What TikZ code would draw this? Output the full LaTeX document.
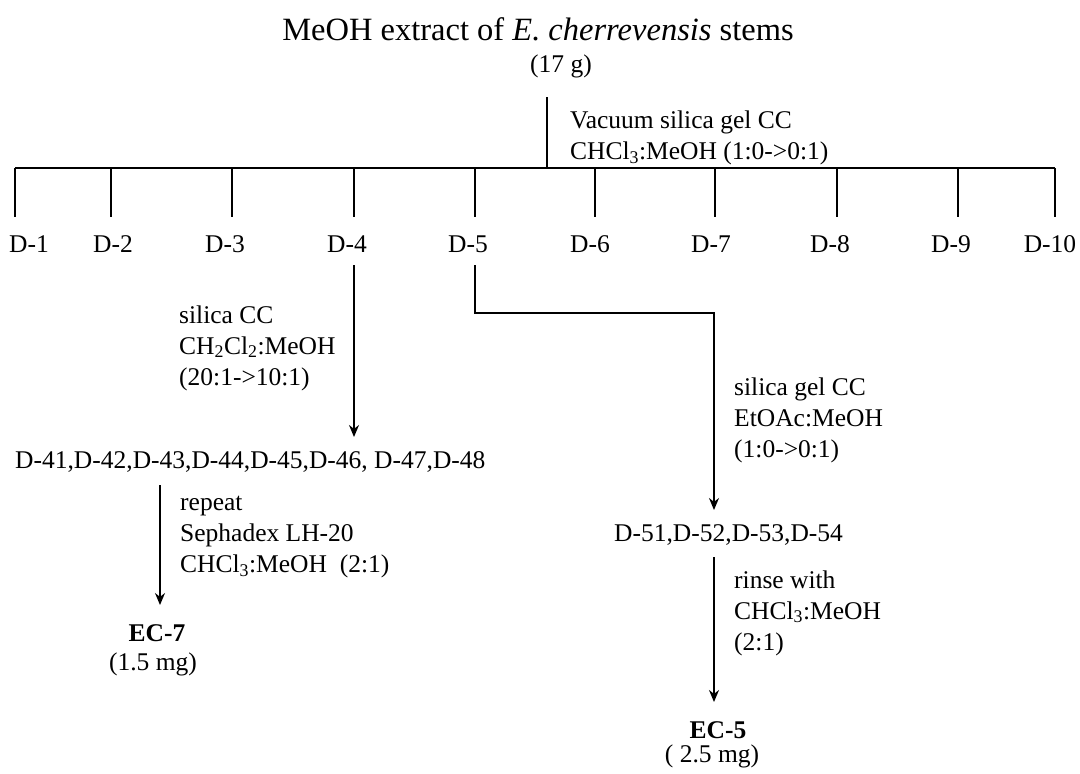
\documentclass[tikz,border=0pt]{standalone}
\usepackage{fontspec}
\setmainfont{Liberation Serif}
\usetikzlibrary{arrows.meta}
\begin{document}
\begin{tikzpicture}[x=1pt,y=-1pt,
  txt/.style={inner sep=0pt, font=\fontsize{25.5}{31}\selectfont},
  lbl/.style={txt, anchor=west, align=left},
  ln/.style={line width=1.3pt},
  arr/.style={ln, -{Stealth[length=12pt,width=10pt]}}]
\useasboundingbox (0,0) rectangle (1080,774);
% title
\node[txt, font=\fontsize{32.5}{38}\selectfont] (title) at (538,29) {MeOH extract of \textit{E. cherrevensis} stems};
\node[txt] (mass) at (561,66) {(17 g)};
\coordinate (top) at (547,97);
\coordinate (hub) at (547,168);
\draw[ln] (top) -- (hub);
\node[lbl] (vac) at (570,138) {Vacuum silica gel CC\\CHCl\textsubscript{3}:MeOH (1:0->0:1)};
% fractions
\foreach \i/\x/\c in {1/15/29,2/111/113,3/232/225,4/354/347,5/475/468,6/595/590,7/715/711,8/837/830,9/958/951,10/1055/1050}{
  \coordinate (t\i) at (\x,168);
  \coordinate (b\i) at (\x,217);
  \draw[ln] (t\i) -- (b\i);
  \node[txt] (d\i) at (\c,244) {D-\i};
}
\draw[ln] (t1) -- (t10);
% D-4 branch
\coordinate (s4) at (354,265);
\coordinate (e4) at (354,437);
\draw[arr] (s4) -- (e4);
\node[lbl] (c4) at (179,348) {silica CC\\CH\textsubscript{2}Cl\textsubscript{2}:MeOH\\(20:1->10:1)};
\node[txt, anchor=west] (list4) at (15,462) {D-41,D-42,D-43,D-44,D-45,D-46, D-47,D-48};
\coordinate (s7) at (160,485);
\coordinate (e7) at (160,605);
\draw[arr] (s7) -- (e7);
\node[lbl] (c7) at (180,537) {repeat\\Sephadex LH-20\\CHCl\textsubscript{3}:MeOH\ \ (2:1)};
\node[txt] (ec7) at (157,633) {\textbf{EC-7}};
\node[txt] (m7) at (153,664) {(1.5 mg)};
% D-5 branch
\coordinate (s5) at (475,265);
\coordinate (k5) at (714,313);
\coordinate (e5) at (714,510);
\draw[arr] (s5) |- (k5) -- (e5);
\node[lbl] (c5) at (734,420) {silica gel CC\\EtOAc:MeOH\\(1:0->0:1)};
\node[txt, anchor=west] (list5) at (614,535) {D-51,D-52,D-53,D-54};
\coordinate (s6) at (714,557);
\coordinate (e6) at (714,702);
\draw[arr] (s6) -- (e6);
\node[lbl] (c6) at (734,613) {rinse with\\CHCl\textsubscript{3}:MeOH\\(2:1)};
\node[txt] (ec5) at (718,730) {\textbf{EC-5}};
\node[txt] (m5) at (712,756) {( 2.5 mg)};
\end{tikzpicture}
\end{document}
